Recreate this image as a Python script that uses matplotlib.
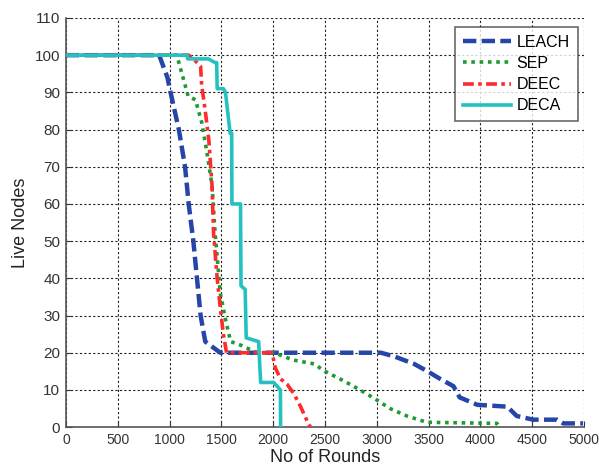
import matplotlib
matplotlib.use("Agg")
import matplotlib.pyplot as plt

leach_x = [0, 900, 980, 1010, 1090, 1150, 1185, 1230, 1265, 1300, 1345, 1490, 3040, 3170, 3360, 3490, 3610, 3740, 3800, 3970, 4260, 4350, 4510, 4740, 4800, 4990]
leach_y = [100, 100, 94, 90, 80, 70, 60, 50, 40, 30, 23, 20, 20, 19, 17, 15, 13, 11, 8, 6, 5.5, 3, 2, 2, 1, 1]

sep_x = [0, 1070, 1120, 1180, 1250, 1310, 1360, 1410, 1440, 1475, 1490, 1540, 1590, 1690, 1845, 2005, 2200, 2395, 2500, 2677, 2838, 2983, 3128, 3290, 3483, 4160, 4190]
sep_y = [100, 100, 95, 89, 88, 82, 74, 65, 52, 41, 36, 29, 23, 22, 20, 20, 18, 17, 15, 12.5, 10, 7.6, 5, 3, 1.3, 1, 0]

deec_x = [0, 1185, 1230, 1300, 1310, 1345, 1380, 1410, 1425, 1460, 1490, 1520, 1550, 1990, 2020, 2070, 2135, 2200, 2265, 2330, 2360]
deec_y = [100, 100, 99, 97, 92, 85, 77, 65, 52, 40, 32, 25, 20, 20, 16, 13, 11.5, 9, 5.5, 1.5, 0]

deca_x = [0, 1170, 1175, 1375, 1440, 1455, 1460, 1520, 1540, 1585, 1600, 1602, 1685, 1690, 1730, 1740, 1860, 1870, 1880, 2005, 2070, 2072]
deca_y = [100, 100, 99, 99, 98, 98, 91, 91, 90, 79, 79, 60, 60, 38, 37, 24, 23, 17, 12, 12, 10, 0]

x_ticks = list(range(0, 5001, 500))
y_ticks = list(range(0, 111, 10))

plt.rcParams['font.family'] = ['Liberation Sans', 'DejaVu Sans']

fig = plt.figure(figsize=(5.99, 4.73), dpi=100)
ax = fig.add_axes([0.110, 0.097, 0.865, 0.865])

ax.plot(leach_x, leach_y, color='#2545a8', lw=3.2, ls=(0, (3, 1.2)), label='LEACH', zorder=3)
ax.plot(sep_x, sep_y, color='#1e9a30', lw=2.6, ls=(0, (1, 1.3)), label='SEP', zorder=3)
ax.plot(deec_x, deec_y, color='#ff2a2a', lw=2.6, ls=(0, (3, 1.2, 1, 1.2)), label='DEEC', zorder=3)
ax.plot(deca_x, deca_y, color='#25c0c0', lw=2.6, ls='-', label='DECA', zorder=3)

ax.set_xlim(0, 5000)
ax.set_ylim(0, 110)
ax.set_xticks(x_ticks)
ax.set_yticks(y_ticks)
ax.tick_params(direction='in', length=4, colors='#333333')
ax.tick_params(axis='x', labelsize=10, pad=4)
ax.tick_params(axis='y', labelsize=11, pad=4)
ax.grid(True, color='#222222', ls=(0, (2, 2)), lw=0.8)
ax.spines['top'].set_visible(False)
ax.spines['right'].set_visible(False)
for s in ['left', 'bottom']:
    ax.spines[s].set_color('#555555')
    ax.spines[s].set_linewidth(1.2)

ax.set_xlabel('No of Rounds', fontsize=13, color='#222222', labelpad=2)
ax.set_ylabel('Live Nodes', fontsize=13, color='#222222', labelpad=4)

leg = ax.legend(loc='upper right', fontsize=11.5, frameon=True, fancybox=False,
                edgecolor='#444444', handlelength=3.0, handletextpad=0.35, borderpad=0.5,
                labelspacing=0.38, borderaxespad=0.0, bbox_to_anchor=(0.988, 0.978))
leg.get_frame().set_linewidth(1.2)

fig.savefig('out.png', dpi=100)
